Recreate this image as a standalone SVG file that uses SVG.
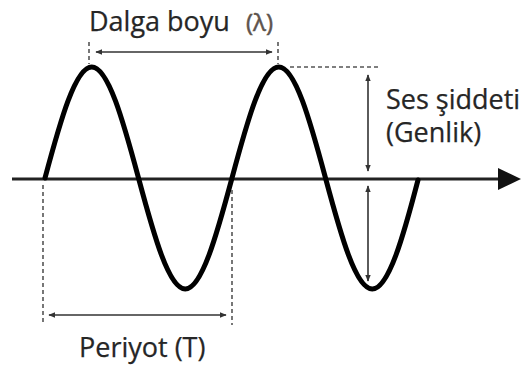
<svg xmlns="http://www.w3.org/2000/svg" width="527" height="370" viewBox="0 0 527 370">
  <defs>
    <marker id="ah" viewBox="0 0 10 10" refX="9" refY="5" markerWidth="7" markerHeight="7" markerUnits="userSpaceOnUse" orient="auto-start-reverse">
      <path d="M0,1 L10,5 L0,9 Z" fill="#333"/>
    </marker>
  </defs>
  <style>
    .lbl { font-family: "Open Sans", "Liberation Sans", sans-serif; font-size: 27px; fill: #262626; stroke: #262626; stroke-width: 0.25; }
    .dash { fill: none; stroke: #555; stroke-width: 1.6; stroke-dasharray: 4 3; }
    .dim { fill: none; stroke: #333; stroke-width: 1.6; marker-start: url(#ah); marker-end: url(#ah); }
    .wave { fill: none; stroke: #000; stroke-width: 5; stroke-linecap: round; }
    .axis { fill: none; stroke: #222; stroke-width: 3; }
  </style>
  <rect width="527" height="370" fill="#fff"/>

  <g id="axis">
    <line class="axis" x1="12" y1="179" x2="500" y2="179"/>
    <path d="M498,168 L521,179 L498,190 Z" fill="#111"/>
  </g>

  <g id="wave">
    <path class="wave" d="M45,178 C60.26,121.08 75.34,67 91.75,67 C108.16,67 123.24,121.08 138.5,178 C153.76,234.92 168.84,289 185.25,289 C201.66,289 216.74,234.92 232,178 C247.26,121.08 262.34,67 278.75,67 C295.16,67 310.24,121.08 325.5,178 C340.76,234.92 355.84,289 372.25,289 C388.66,289 403.74,234.92 418,180"/>
  </g>

  <g id="connectors">
    <line class="dash" x1="89" y1="42" x2="89" y2="64"/>
    <line class="dash" x1="278" y1="42" x2="278" y2="64"/>
    <line class="dim" x1="96" y1="52" x2="272" y2="52"/>
    <line class="dash" x1="290" y1="67" x2="380" y2="67"/>
    <line class="dim" x1="368" y1="75" x2="368" y2="171"/>
    <line class="dim" x1="368" y1="186" x2="368" y2="281"/>
    <line class="dash" x1="43" y1="185" x2="43" y2="323"/>
    <line class="dash" x1="232" y1="190" x2="232" y2="325"/>
    <line class="dim" x1="49" y1="315" x2="226" y2="315"/>
  </g>

  <g id="label-wavelength">
    <text class="lbl" x="89" y="31">Dalga boyu</text>
    <text class="lbl" x="246" y="31" style="fill:#5e534d;stroke:#5e534d;stroke-width:0.5;font-size:24px">(λ)</text>
  </g>
  <g id="label-amplitude">
    <text class="lbl" x="386" y="109">Ses şiddeti</text>
    <text class="lbl" x="386" y="142">(Genlik)</text>
  </g>
  <g id="label-period">
    <text class="lbl" x="79" y="357">Periyot (T)</text>
  </g>
</svg>
